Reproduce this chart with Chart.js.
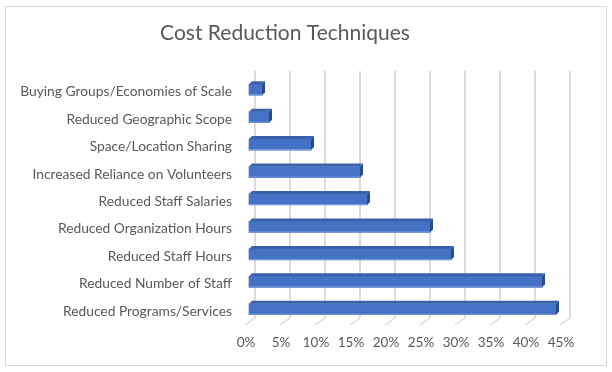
<!DOCTYPE html>
<html>
<head>
<meta charset="utf-8">
<script src="https://cdn.jsdelivr.net/npm/chart.js@4.4.1/dist/chart.umd.min.js"></script>
<style>
  html, body { margin: 0; padding: 0; background: #fff; }
  #wrap { position: absolute; left: 0; top: 0; width: 612px; height: 372px; }
</style>
</head>
<body>
<div id="wrap"><canvas id="c" width="612" height="372"></canvas></div>
<script>
const categories = [
  "Buying Groups/Economies of Scale",
  "Reduced Geographic Scope",
  "Space/Location Sharing",
  "Increased Reliance on Volunteers",
  "Reduced Staff Salaries",
  "Reduced Organization Hours",
  "Reduced Staff Hours",
  "Reduced Number of Staff",
  "Reduced Programs/Services"
];
const values = [0.02, 0.03, 0.09, 0.16, 0.17, 0.26, 0.29, 0.42, 0.44];
const xTicks = [0, 0.05, 0.10, 0.15, 0.20, 0.25, 0.30, 0.35, 0.40, 0.45];
const titleText = "Cost Reduction Techniques";

const FONT = "Lato, 'Open Sans', sans-serif";
const TXT = "#595959";
const SHIFT_X = -7, SHIFT_Y = 5, DEPTH = 3;

const frame = {
  id: 'frame',
  beforeDraw(chart) {
    const ctx = chart.ctx;
    ctx.save();
    ctx.fillStyle = '#fff';
    ctx.fillRect(0, 0, chart.width, chart.height);
    ctx.strokeStyle = '#d9d9d9';
    ctx.lineWidth = 1;
    ctx.strokeRect(5.5, 6.5, 601, 359);
    ctx.restore();
  },
  beforeDatasetsDraw(chart) {
    const ctx = chart.ctx;
    const xs = chart.scales.x;
    const bottom = chart.chartArea.bottom;
    ctx.save();
    ctx.strokeStyle = '#d9d9d9';
    ctx.lineWidth = 1.2;
    xs.ticks.forEach(t => {
      const px = xs.getPixelForValue(t.value);
      ctx.beginPath();
      ctx.moveTo(px, bottom);
      ctx.lineTo(px - 10, bottom + 7);
      ctx.stroke();
    });
    ctx.restore();
    ctx.save();
    ctx.translate(SHIFT_X, SHIFT_Y);
  },
  afterDatasetsDraw(chart) {
    const ctx = chart.ctx;
    const meta = chart.getDatasetMeta(0);
    meta.data.forEach(bar => {
      const p = bar.getProps(['x', 'y', 'base', 'height'], true);
      const top = p.y - p.height / 2, bot = p.y + p.height / 2;
      const l = p.base, r = p.x, d = DEPTH;
      ctx.fillStyle = '#3A62AB';
      ctx.beginPath();
      ctx.moveTo(l, top); ctx.lineTo(l + d, top - d); ctx.lineTo(r + d, top - d); ctx.lineTo(r, top);
      ctx.closePath(); ctx.fill();
      ctx.fillStyle = '#2C4C86';
      ctx.beginPath();
      ctx.moveTo(r, top); ctx.lineTo(r + d, top - d); ctx.lineTo(r + d, bot - d); ctx.lineTo(r, bot);
      ctx.closePath(); ctx.fill();
      ctx.fillStyle = '#7d9bd6';
      ctx.fillRect(l, bot - 1, r - l, 1);
    });
    ctx.restore();
  }
};

new Chart(document.getElementById('c'), {
  type: 'bar',
  data: {
    labels: categories,
    datasets: [{
      data: values,
      backgroundColor: '#4472C4',
      borderWidth: 0,
      barThickness: 11
    }]
  },
  options: {
    indexAxis: 'y',
    responsive: false,
    animation: false,
    devicePixelRatio: 1,
    layout: { padding: { left: 0, right: 42, top: 0, bottom: 0 } },
    plugins: {
      legend: { display: false },
      tooltip: { enabled: false },
      title: {
        display: true,
        text: titleText,
        color: TXT,
        font: { family: FONT, size: 21, weight: 'normal', lineHeight: 1.2 },
        padding: { top: 21, bottom: 24.8 }
      }
    },
    scales: {
      x: {
        min: 0, max: 0.45,
        afterBuildTicks(scale) { scale.ticks = xTicks.map(v => ({ value: v })); },
        afterFit(scale) { scale.height = 54; },
        grid: { color: '#dcdcdc', lineWidth: 2, drawTicks: false },
        border: { display: false },
        ticks: {
          color: TXT,
          font: { family: FONT, size: 13.5 },
          padding: 17,
          labelOffset: -9,
          callback: v => Math.round(v * 100) + '%'
        }
      },
      y: {
        afterFit(scale) { scale.width = 255; },
        grid: { display: false, drawTicks: false },
        border: { display: false },
        ticks: {
          color: TXT,
          font: { family: FONT, size: 13.8 },
          padding: 23,
          labelOffset: 7
        }
      }
    }
  },
  plugins: [frame]
});
</script>
</body>
</html>
